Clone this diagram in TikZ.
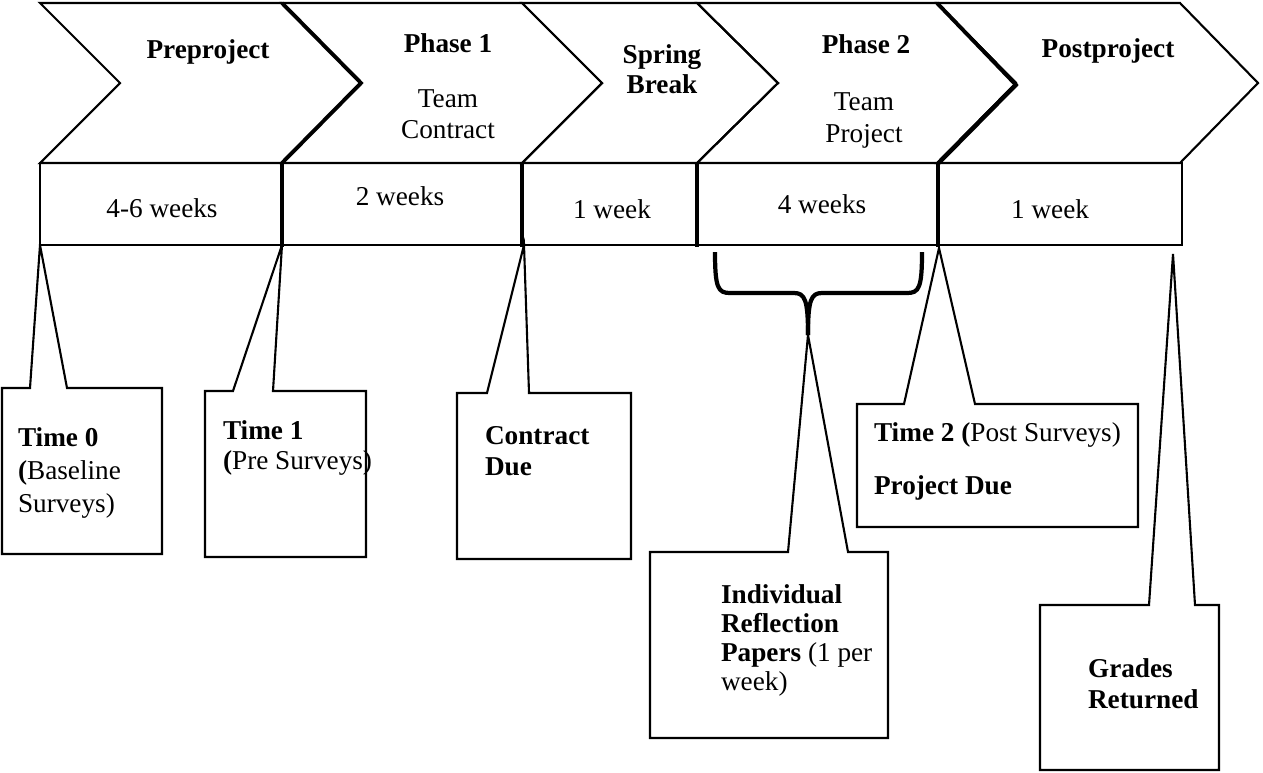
\documentclass[tikz,border=0pt]{standalone}
\usepackage{fontspec}
\setmainfont{Liberation Serif}

\newcommand{\calloutbox}[7]{%
  \draw[cbox] (#1,#2) -- (#5,#2) -- (#7) -- (#6,#2) -- (#3,#2) -- (#3,#4) -- (#1,#4) -- cycle;}

\begin{document}
\begin{tikzpicture}[x=0.02cm, y=-0.02cm, line width=1.2pt, line join=miter,
  cbox/.style={line width=1.2pt},
  sep/.style={line width=2.2pt},
  brace/.style={line width=2.4pt, line cap=butt},
  txt/.style={font=\fontsize{15.5}{17.6}\selectfont, inner sep=0pt},
  btxt/.style={font=\fontsize{15.5}{17.6}\selectfont\bfseries, inner sep=0pt}]
  \useasboundingbox (0,0) rectangle (1263,772);
  % phase arrows
  \foreach \a/\b/\c/\d in {40/120/282/361, 282/361/522/602, 522/602/697/778, 697/778/937/1016, 937/1016/1180/1258}
    { \draw (\a,3) -- (\c,3) -- (\d,83) -- (\c,163) -- (\a,163) -- (\b,83) -- cycle; }
  \draw[sep] (282,3) -- (361,83) -- (282,163);
  \draw[sep] (937,3) -- (1016,85) -- (939,163);
  % durations
  \foreach \a/\b in {40/282, 282/522, 522/697, 697/938, 938/1182} { \draw (\a,163) rectangle (\b,245); }
  \foreach \x in {282, 522, 697, 938} { \draw[sep] (\x,163) -- (\x,247); }
  \node[btxt, anchor=base] (pre) at (208,58) {Preproject};
  \node[btxt, anchor=base] (ph1) at (448,52) {Phase 1};
  \node[txt, anchor=north, align=center, font=\fontsize{15.5}{17.6}\selectfont] (ph1sub) at (448,89) {Team\\Contract};
  \node[btxt, anchor=north, align=center, font=\fontsize{15.5}{17}\selectfont\bfseries] (sb) at (662,44) {Spring\\Break};
  \node[btxt, anchor=base] (ph2) at (866,53) {Phase 2};
  \node[txt, anchor=north, align=center, font=\fontsize{15.5}{18}\selectfont] (ph2sub) at (864,92) {Team\\Project};
  \node[btxt, anchor=base] (post) at (1108,57) {Postproject};
  \node[txt, anchor=base] (d1) at (162,217) {4-6 weeks};
  \node[txt, anchor=base] (d2) at (400,205) {2 weeks};
  \node[txt, anchor=base] (d3) at (612,218) {1 week};
  \node[txt, anchor=base] (d4) at (822,213) {4 weeks};
  \node[txt, anchor=base] (d5) at (1050,218) {1 week};
  % callouts
  \coordinate (t0tip) at (40,245);
  \coordinate (t1tip) at (282,245);
  \coordinate (ctip) at (524,245);
  \coordinate (itip) at (808,335);
  \coordinate (t2tip) at (939,248);
  \coordinate (gtip) at (1173,254);
  \calloutbox{2}{388}{162}{554}{30}{67}{t0tip}
  \calloutbox{205}{391}{366}{557}{233}{273}{t1tip}
  \calloutbox{457}{393}{631}{559}{487}{529}{ctip}
  \calloutbox{650}{552}{888}{738}{788}{848}{itip}
  \calloutbox{857}{404}{1138}{527}{904}{975}{t2tip}
  \calloutbox{1040}{605}{1219}{770}{1149}{1195}{gtip}
  % brace over phase 2
  \draw[brace] (715,252) .. controls (715,288) and (718,293) .. (730,293) -- (794,293)
    .. controls (805,293) and (808,300) .. (itip);
  \draw[brace] (922,252) .. controls (922,288) and (919,293) .. (907,293) -- (822,293)
    .. controls (811,293) and (808,300) .. (itip);
  \node[txt, anchor=north west, align=left, font=\fontsize{15.5}{18.7}\selectfont] (t0) at (17,427)
    {\textbf{Time 0}\\\textbf{(}Baseline\\Surveys)};
  \node[txt, anchor=north west, align=left, font=\fontsize{15.5}{17}\selectfont] (t1) at (222,420)
    {\textbf{Time 1}\\\textbf{(}Pre Surveys)};
  \node[btxt, anchor=north west, align=left] (cdue) at (484,425) {Contract\\Due};
  \node[txt, anchor=north west, align=left, font=\fontsize{15.5}{16.4}\selectfont] (refl) at (720,584)
    {\textbf{Individual}\\\textbf{Reflection}\\\textbf{Papers} (1 per\\week)};
  \node[txt, anchor=north west, align=left] (t2) at (873,422)
    {\textbf{Time 2 (}Post Surveys)\\[12.4pt]\textbf{Project Due}};
  \node[btxt, anchor=north west, align=left] (grades) at (1087,658) {Grades\\Returned};
\end{tikzpicture}
\end{document}
